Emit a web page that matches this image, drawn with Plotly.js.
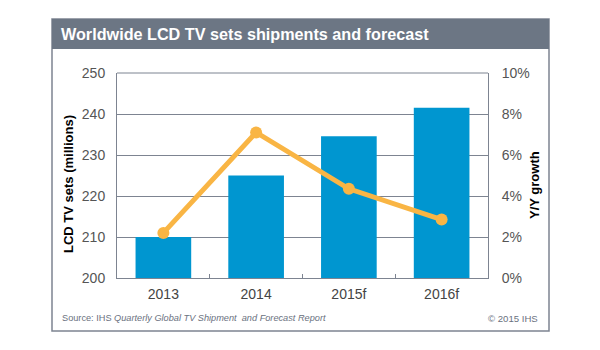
<!DOCTYPE html>
<html>
<head>
<meta charset="utf-8">
<script src="https://cdn.plot.ly/plotly-3.0.1.min.js"></script>
<style>html,body{margin:0;padding:0;background:#fff;}#chart{width:600px;height:350px;}</style>
</head>
<body>
<div id="chart"></div>
<script>
const categories = ["2013", "2014", "2015f", "2016f"];
const shipments = [210, 225, 234.6, 241.5];
const growth = [2.2, 7.1, 4.35, 2.85];
const leftTicks = [200, 210, 220, 230, 240, 250];
const rightTicks = [0, 2, 4, 6, 8, 10];
const rightTickLabels = ["0%", "2%", "4%", "6%", "8%", "10%"];

const W = 600, H = 350;
const M = {l: 117, r: 112, t: 73, b: 72};
const pw = W - M.l - M.r, ph = H - M.t - M.b;
const px = x => (x - M.l) / pw;
const py = y => (H - M.b - y) / ph;

const font = "Liberation Sans, Arial, sans-serif";
const frameColor = "#7d8491";

const traces = [
  {type: "bar", x: categories, y: shipments, marker: {color: "#0096d0"}, yaxis: "y", hoverinfo: "skip"},
  {type: "scatter", mode: "lines+markers", x: categories, y: growth, yaxis: "y2",
   line: {color: "#f9b544", width: 5}, marker: {color: "#f9b544", size: 12}, hoverinfo: "skip"}
];

const layout = {
  width: W, height: H,
  margin: M,
  paper_bgcolor: "#fff", plot_bgcolor: "#fff",
  showlegend: false,
  bargap: 0.4,
  font: {family: font, color: "#444", size: 14},
  xaxis: {
    type: "category", tickson: "boundaries", ticks: "inside", ticklen: 4, tickcolor: frameColor,
    showline: true, linecolor: frameColor, linewidth: 1, mirror: false,
    showgrid: false, tickfont: {size: 14, color: "#444"}, ticklabelstandoff: 3, fixedrange: true
  },
  yaxis: {
    range: [200, 250], tickvals: leftTicks, ticks: "", showgrid: true, gridcolor: frameColor, gridwidth: 1,
    showline: true, linecolor: frameColor, linewidth: 1, zeroline: false,
    tickfont: {size: 14, color: "#555"}, ticklabelstandoff: 8
  },
  yaxis2: {
    overlaying: "y", side: "right", range: [0, 10], tickvals: rightTicks, ticktext: rightTickLabels,
    showgrid: false, showline: true, linecolor: frameColor, linewidth: 1, zeroline: false, ticks: "",
    tickfont: {size: 14, color: "#555"}, ticklabelstandoff: 10
  },
  shapes: [
    {type: "rect", xref: "paper", yref: "paper", x0: px(52), x1: px(549), y0: py(331), y1: py(19),
     line: {color: frameColor, width: 1.5}, fillcolor: "rgba(0,0,0,0)", layer: "below"},
    {type: "rect", xref: "paper", yref: "paper", x0: px(52), x1: px(549), y0: py(49), y1: py(19),
     line: {width: 0}, fillcolor: "#6c7684", layer: "below"},
    {type: "line", xref: "paper", yref: "paper", x0: 0, x1: 1, y0: 1, y1: 1, line: {color: frameColor, width: 1}}
  ],
  annotations: [
    {xref: "paper", yref: "paper", x: px(59), y: py(34), xanchor: "left", yanchor: "middle", showarrow: false,
     text: "<b>Worldwide LCD TV sets shipments and forecast</b>", font: {family: font, size: 16.2, color: "#fff"}},
    {xref: "paper", yref: "paper", x: px(68), y: py(184), xanchor: "center", yanchor: "middle", showarrow: false,
     textangle: -90, text: "<b>LCD TV sets (millions)</b>", font: {family: font, size: 13, color: "#000"}},
    {xref: "paper", yref: "paper", x: px(534), y: py(185), xanchor: "center", yanchor: "middle", showarrow: false,
     textangle: -90, text: "<b>Y/Y growth</b>", font: {family: font, size: 13, color: "#000"}},
    {xref: "paper", yref: "paper", x: px(60), y: py(318), xanchor: "left", yanchor: "middle", showarrow: false,
     text: "Source: IHS <i>Quarterly Global TV Shipment  and Forecast Report</i>", font: {family: font, size: 9.2, color: "#6a7180"}},
    {xref: "paper", yref: "paper", x: px(540), y: py(318), xanchor: "right", yanchor: "middle", showarrow: false,
     text: "© 2015 IHS", font: {family: font, size: 9.6, color: "#6a7180"}}
  ]
};

Plotly.newPlot("chart", traces, layout, {displayModeBar: false, staticPlot: true});
</script>
</body>
</html>
